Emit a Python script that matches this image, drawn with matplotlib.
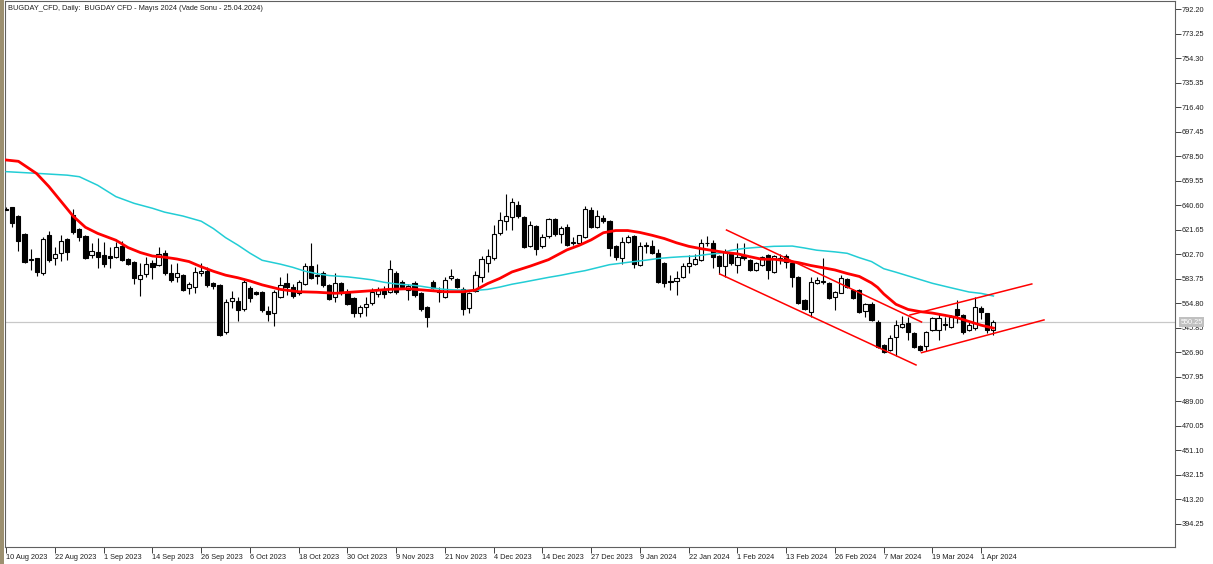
import numpy as np
import matplotlib
matplotlib.use("Agg")
import matplotlib.pyplot as plt
from matplotlib.patches import Rectangle
import matplotlib.transforms as mtransforms

plt.rcParams['font.family'] = ['Liberation Sans', 'DejaVu Sans']

title = "BUGDAY_CFD, Daily:  BUGDAY CFD - Mayıs 2024 (Vade Sonu - 25.04.2024)"

# daily candles (bar index 0 = 10 Aug 2023)
opens = [638.0, 639.0, 632.5, 618.3, 599.2, 599.5, 587.9, 617.5, 599.7, 603.9,
         614.2, 633.0, 621.9, 616.8, 602.1, 604.6, 602.1, 601.0, 600.8, 609.0,
         598.8, 596.9, 583.3, 587.4, 595.6, 594.4, 603.9, 588.4, 584.9, 586.6,
         576.4, 577.1, 587.9, 590.0, 580.2, 578.9, 542.8, 566.5, 566.8, 560.1,
         576.4, 573.3, 573.7, 559.0, 557.0, 569.9, 580.2, 577.1, 572.5, 579.7,
         593.6, 587.0, 588.4, 578.9, 569.9, 580.2, 573.7, 568.6, 557.0, 562.1,
         564.8, 571.9, 574.5, 573.7, 588.4, 581.5, 575.0, 580.7, 572.5, 562.1,
         581.5, 574.0, 569.9, 584.1, 583.3, 576.0, 560.9, 574.5, 585.3, 595.6,
         599.5, 618.9, 628.6, 631.2, 640.7, 631.7, 609.0, 624.5, 609.0, 616.8,
         629.7, 618.3, 624.0, 611.0, 611.1, 615.8, 636.9, 624.0, 630.4, 628.6,
         609.0, 599.5, 612.4, 616.8, 594.4, 609.0, 609.0, 603.9, 596.1, 582.0,
         582.2, 585.3, 593.6, 595.1, 598.2, 611.0, 611.6, 601.3, 593.6, 603.9,
         594.4, 601.3, 598.2, 590.5, 594.4, 602.1, 589.2, 598.0, 601.0, 596.1,
         585.3, 567.3, 558.3, 580.7, 581.0, 580.2, 569.4, 573.0, 583.3, 575.0,
         575.0, 559.1, 564.2, 550.5, 532.5, 528.7, 538.9, 546.7, 549.8, 541.6,
         531.7, 531.7, 544.1, 544.1, 547.9, 546.7, 560.1, 555.7, 544.1, 545.4,
         561.4, 557.0, 544.1]
highs = [639.0, 639.5, 633.0, 619.0, 607.0, 600.0, 615.8, 620.6, 608.5, 617.5,
         615.0, 637.4, 623.0, 617.5, 611.6, 615.0, 612.4, 608.0, 612.4, 612.9,
         600.0, 597.5, 595.6, 600.3, 598.2, 607.9, 606.0, 595.0, 596.1, 587.5,
         581.5, 592.6, 596.1, 593.1, 581.5, 580.0, 567.7, 574.5, 569.9, 583.0,
         578.1, 574.5, 574.5, 562.7, 575.0, 585.3, 587.9, 580.0, 583.0, 596.1,
         611.6, 595.1, 589.5, 580.0, 587.9, 581.5, 576.0, 570.0, 563.4, 569.9,
         576.4, 577.6, 578.0, 598.2, 590.0, 583.0, 580.0, 582.0, 573.5, 563.0,
         583.0, 577.0, 585.0, 591.0, 584.5, 577.0, 573.5, 590.0, 601.3, 606.5,
         625.3, 635.1, 649.2, 646.2, 644.0, 632.5, 628.0, 625.5, 618.0, 631.0,
         631.0, 624.5, 626.0, 616.0, 617.5, 640.0, 639.5, 637.0, 632.9, 629.5,
         610.0, 616.0, 617.5, 617.5, 612.4, 612.0, 614.0, 607.0, 597.0, 586.6,
         590.0, 596.0, 602.1, 603.0, 614.2, 616.8, 613.7, 602.0, 606.5, 604.5,
         611.1, 611.0, 599.0, 596.5, 601.5, 603.0, 602.0, 603.0, 603.0, 597.0,
         586.0, 568.0, 585.3, 585.0, 599.5, 581.0, 574.5, 586.6, 584.0, 576.0,
         576.0, 565.0, 566.0, 551.5, 533.5, 540.3, 551.9, 555.0, 554.4, 542.5,
         532.5, 543.5, 554.4, 557.0, 554.0, 556.0, 567.3, 556.5, 550.0, 569.9,
         562.5, 557.5, 551.9]
lows = [636.5, 623.7, 605.4, 595.9, 590.5, 586.1, 587.0, 597.0, 594.4, 597.7,
        598.2, 618.0, 613.0, 599.0, 599.5, 592.0, 592.6, 591.8, 599.5, 597.5,
        594.0, 579.7, 570.4, 585.3, 583.3, 593.5, 586.5, 581.5, 581.5, 574.0,
        571.9, 573.0, 586.0, 577.6, 575.9, 539.5, 541.4, 560.9, 551.3, 559.0,
        566.0, 571.0, 558.0, 551.3, 547.2, 569.0, 571.2, 568.6, 571.0, 579.0,
        583.5, 579.7, 577.0, 567.0, 566.0, 571.0, 563.5, 554.0, 554.0, 554.9,
        563.5, 569.9, 569.0, 572.5, 572.0, 575.5, 567.3, 570.0, 559.0, 546.7,
        575.5, 566.0, 569.0, 583.0, 576.5, 555.7, 557.5, 573.5, 581.5, 589.2,
        598.5, 617.5, 621.4, 621.4, 631.0, 607.5, 608.0, 602.0, 607.5, 615.5,
        617.0, 611.1, 609.0, 610.0, 610.5, 615.0, 623.0, 623.0, 627.0, 601.3,
        598.0, 595.0, 611.0, 591.8, 593.5, 604.0, 603.0, 580.5, 577.1, 575.0,
        571.0, 584.5, 588.0, 594.0, 597.5, 609.0, 591.8, 587.4, 585.3, 594.5,
        587.9, 598.5, 590.0, 589.5, 593.5, 583.3, 588.5, 595.0, 592.0, 577.6,
        564.0, 559.5, 554.4, 580.0, 580.0, 568.0, 559.6, 572.5, 576.5, 568.0,
        557.5, 554.4, 551.0, 530.5, 526.5, 528.0, 524.0, 546.0, 536.4, 530.5,
        528.0, 528.0, 543.5, 536.4, 544.0, 546.0, 549.3, 541.0, 543.0, 544.5,
        553.0, 541.6, 540.3]
closes = [637.0, 626.6, 613.1, 596.9, 598.6, 589.2, 614.2, 598.2, 602.9, 613.1,
          604.6, 620.1, 615.8, 599.5, 605.4, 600.8, 595.1, 600.0, 608.5, 598.2,
          595.1, 584.1, 586.6, 595.1, 592.6, 602.9, 587.9, 582.8, 588.4, 575.0,
          579.7, 589.2, 590.0, 578.9, 578.1, 540.3, 566.0, 568.6, 559.6, 581.0,
          568.6, 572.0, 559.2, 556.5, 573.7, 578.9, 577.6, 570.4, 581.5, 593.6,
          584.1, 586.0, 578.9, 567.8, 580.2, 572.5, 564.2, 557.0, 562.1, 564.2,
          573.7, 575.0, 572.0, 591.5, 573.7, 577.1, 578.0, 571.2, 560.1, 553.9,
          576.4, 573.5, 582.8, 585.9, 577.6, 560.1, 573.0, 586.6, 598.8, 601.3,
          618.3, 629.1, 632.2, 643.3, 632.2, 608.5, 625.3, 606.5, 616.2, 629.7,
          618.3, 622.7, 609.8, 612.0, 617.5, 637.5, 624.0, 632.2, 628.6, 607.3,
          600.3, 612.4, 616.2, 595.1, 609.0, 609.6, 603.9, 581.5, 580.7, 581.5,
          584.6, 593.6, 595.6, 598.8, 611.6, 611.3, 600.8, 593.6, 604.6, 595.6,
          600.8, 599.5, 590.5, 595.6, 600.8, 590.5, 601.3, 600.0, 597.0, 584.9,
          564.8, 560.1, 581.5, 582.8, 582.0, 568.6, 573.7, 584.1, 577.6, 568.6,
          558.3, 564.2, 551.9, 531.2, 527.4, 537.7, 548.0, 548.8, 542.8, 531.2,
          528.7, 542.8, 553.2, 553.2, 548.8, 554.0, 555.7, 542.8, 548.0, 562.1,
          558.3, 544.1, 550.25]

# moving averages (bar index, price)
red_ma_idx = [0, 2, 5, 7, 9, 11, 13, 15, 18, 20, 22, 24, 26, 28, 30, 32, 34, 36, 38,
              40, 42, 45, 48, 51, 54, 57, 60, 63, 66, 69, 72, 75, 77, 79, 81, 83, 86,
              89, 92, 94, 96, 98, 100, 102, 104, 106, 108, 110, 112, 114, 116, 118,
              120, 122, 124, 126, 128, 130, 132, 134, 136, 138, 140, 142, 143, 144,
              146, 148, 150, 152, 154, 156, 158, 160, 162]
red_ma_val = [675.5, 674.5, 665.0, 655.0, 643.5, 632.0, 623.5, 618.8, 613.5, 607.8,
              604.0, 601.3, 600.4, 599.0, 597.0, 593.0, 589.5, 586.5, 584.5, 582.0,
              579.0, 575.5, 573.7, 573.3, 572.5, 573.5, 574.5, 575.6, 576.0, 574.8,
              573.7, 573.7, 575.0, 580.0, 584.0, 589.0, 593.5, 598.5, 606.0, 609.5,
              613.8, 619.3, 621.0, 621.0, 619.5, 617.3, 614.8, 611.5, 608.8, 607.0,
              605.5, 604.0, 603.0, 600.8, 598.8, 598.8, 597.7, 596.2, 594.0, 592.3,
              590.5, 587.8, 585.5, 580.5, 577.0, 572.0, 564.0, 560.0, 558.3, 557.2,
              555.5, 553.7, 550.7, 547.8, 545.6]
cyan_ma_idx = [0, 5, 10, 12, 15, 18, 21, 24, 26, 29, 32, 34, 36, 38, 40, 42, 45, 47,
               49, 51, 53, 56, 58, 60, 62, 64, 66, 68, 70, 72, 74, 77, 79, 81, 83, 85,
               87, 89, 91, 93, 95, 97, 99, 101, 103, 105, 107, 109, 111, 113, 115,
               117, 119, 121, 123, 126, 129, 131, 133, 136, 138, 140, 142, 144, 146,
               149, 152, 155, 158, 160, 162]
cyan_ma_val = [666.5, 665.2, 663.8, 662.6, 656.0, 647.2, 642.0, 638.2, 635.2, 632.2,
               628.2, 622.5, 615.5, 609.8, 603.5, 598.0, 595.0, 592.6, 589.6, 587.6,
               586.2, 585.2, 584.1, 582.9, 581.0, 579.7, 579.0, 578.0, 576.5, 575.5,
               575.0, 574.7, 575.5, 577.3, 579.5, 581.2, 583.0, 584.8, 586.4, 588.3,
               590.0, 592.3, 594.6, 595.8, 597.0, 598.1, 599.4, 600.2, 600.8, 601.2,
               602.5, 603.4, 605.8, 607.1, 607.9, 608.8, 609.0, 607.5, 605.8, 604.5,
               603.4, 600.0, 597.0, 591.5, 588.8, 584.5, 580.2, 576.8, 573.5, 572.4,
               570.4]

# hand drawn trend lines: (start bar, start price, end bar, end price)
trend_lines = [(118.2, 621.4, 150.2, 550.3),
               (117.1, 587.4, 149.3, 517.1),
               (148.3, 555.7, 168.3, 579.7),
               (150.2, 526.6, 170.3, 551.9)]

last_price = 550.25
price_ticks = [792.20 - 18.95 * k for k in range(22)]
date_idx = list(range(0, 161, 8))
date_labels = ['10 Aug 2023', '22 Aug 2023', '1 Sep 2023', '14 Sep 2023', '26 Sep 2023',
               '6 Oct 2023', '18 Oct 2023', '30 Oct 2023', '9 Nov 2023', '21 Nov 2023',
               '4 Dec 2023', '14 Dec 2023', '27 Dec 2023', '9 Jan 2024', '22 Jan 2024',
               '1 Feb 2024', '13 Feb 2024', '26 Feb 2024', '7 Mar 2024', '19 Mar 2024',
               '1 Apr 2024']

W, H = 1213, 564
fig = plt.figure(figsize=(W / 100, H / 100), dpi=100)
fig.patch.set_facecolor('white')
ax = fig.add_axes([5 / W, 1 - 547 / H, (1175 - 5) / W, 546 / H])

# brown window border on the left
fig.patches.append(Rectangle((0, 0), 4 / W, 1, transform=fig.transFigure,
                             facecolor='#9C9070', edgecolor='none'))

ax.axhline(last_price, color='#C8C8C8', lw=0.9, zorder=1)

x = np.arange(len(opens))
o = np.array(opens); h = np.array(highs); l = np.array(lows); c = np.array(closes)
ax.vlines(x, l, h, color='black', lw=0.8, zorder=3)
up = c >= o
body_h = np.maximum(np.abs(c - o), 0.35)
ax.bar(x[up], body_h[up], bottom=np.minimum(o, c)[up], width=0.68,
       color='white', edgecolor='black', linewidth=0.8, zorder=4)
ax.bar(x[~up], body_h[~up], bottom=np.minimum(o, c)[~up], width=0.68,
       color='black', edgecolor='black', linewidth=0.8, zorder=4)

ax.plot(cyan_ma_idx, cyan_ma_val, color='#22CDD5', lw=1.1, zorder=5)
ax.plot(red_ma_idx, red_ma_val, color='#FF0000', lw=2.0, zorder=6)
for x0, y0, x1, y1 in trend_lines:
    ax.plot([x0, x1], [y0, y1], color='#FF0000', lw=1.1, zorder=6)

ax.set_xlim(-0.2, 191.8)
ax.set_ylim(376.4, 798.4)

for s in ax.spines.values():
    s.set_color('#606060')
    s.set_linewidth(0.8)

ax.yaxis.tick_right()
ax.set_yticks(price_ticks)
ax.set_yticklabels(['%.2f' % p for p in price_ticks])
ax.tick_params(axis='y', direction='out', length=4, width=0.7, color='#404040',
               labelsize=5.3, pad=1, labelcolor='#202020')
ax.set_xticks(date_idx)
ax.set_xticklabels(date_labels)
ax.tick_params(axis='x', direction='out', length=4, width=0.7, color='#404040',
               labelsize=5.3, pad=1, labelcolor='#202020')
for lab in ax.get_xticklabels():
    lab.set_horizontalalignment('left')

# current price box on the price scale
trans = mtransforms.blended_transform_factory(ax.transAxes, ax.transData)
ax.text(1.0045, last_price, '%.2f' % last_price, transform=trans, fontsize=5.3,
        color='white', va='center', ha='left', zorder=10,
        bbox=dict(boxstyle='square,pad=0.15', facecolor='#C0C0C0', edgecolor='none'))

ax.text(0.0025, 0.993, title, transform=ax.transAxes, fontsize=5.3,
        color='#202020', va='top', ha='left')

fig.savefig('out.png', dpi=100)
